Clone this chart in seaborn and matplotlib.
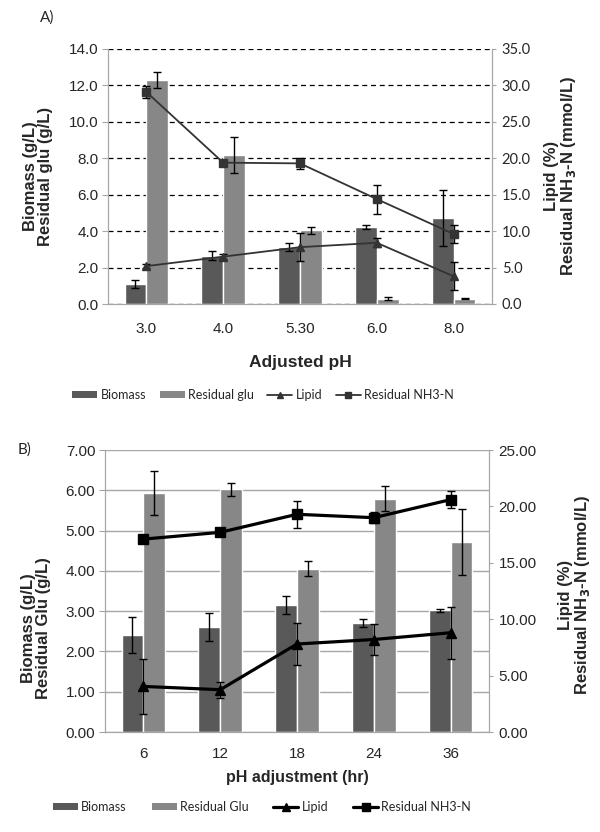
import numpy as np
import pandas as pd
import matplotlib
matplotlib.use("Agg")
import matplotlib.pyplot as plt
import seaborn as sns
from matplotlib.lines import Line2D
from matplotlib.patches import Patch

# ---- panel A data (adjusted pH) ----
ph_labels = ["3.0", "4.0", "5.30", "6.0", "8.0"]
a_biomass = [1.10, 2.64, 3.15, 4.23, 4.73]
a_biomass_err = [0.22, 0.25, 0.22, 0.10, 1.55]
a_glu = [12.30, 8.19, 4.05, 0.30, 0.30]
a_glu_err = [0.42, 1.00, 0.20, 0.06, 0.02]
a_lipid = [5.2, 6.5, 7.8, 8.4, 3.8]
a_lipid_err = [0.3, 0.3, 1.9, 0.6, 1.9]
a_nh3 = [29.1, 19.4, 19.3, 14.4, 9.6]
a_nh3_err = [0.8, 0.2, 0.8, 2.0, 1.2]

# ---- panel B data (time of pH adjustment) ----
hr_labels = ["6", "12", "18", "24", "36"]
b_biomass = [2.40, 2.60, 3.15, 2.70, 3.02]
b_biomass_err = [0.45, 0.35, 0.22, 0.10, 0.03]
b_glu = [5.94, 6.02, 4.05, 5.79, 4.71]
b_glu_err = [0.55, 0.15, 0.19, 0.31, 0.82]
b_lipid = [4.04, 3.75, 7.8, 8.2, 8.8]
b_lipid_err = [2.4, 0.7, 1.9, 1.4, 2.3]
b_nh3 = [17.1, 17.7, 19.3, 19.0, 20.6]
b_nh3_err = [0.15, 0.15, 1.2, 0.47, 0.74]

DARK = "#595959"
LIGHT = "#878787"
SPINE = "#a6a6a6"
CALIBRI = ["Lato", "DejaVu Sans"]

sns.set_style("white")
plt.rcParams["font.family"] = ["Liberation Sans", "DejaVu Sans"]


def panel(fig, rect, cats, biomass, biomass_err, glu, glu_err, lipid,
          lipid_err, nh3, nh3_err, glu_name, left_max, left_step,
          right_max, fmt, dashed, line_color, lw, msize, xlabel,
          xlabel_size, xpad, labelpad):
    ax = fig.add_axes(rect)
    df = pd.DataFrame({
        "cat": cats * 2,
        "val": biomass + glu,
        "series": ["Biomass"] * len(cats) + [glu_name] * len(cats),
    })
    sns.barplot(data=df, x="cat", y="val", hue="series", ax=ax,
                palette=[DARK, LIGHT], width=0.57, errorbar=None,
                saturation=1, legend=False)
    # error bars on bars
    errs = biomass_err + glu_err
    vals = biomass + glu
    for p, v, e in zip(ax.patches, vals, errs):
        xc = p.get_x() + p.get_width() / 2
        ax.errorbar(xc, v, yerr=e, color="black", lw=1, capsize=3,
                    capthick=1, zorder=5)
    ax.set_ylim(0, left_max)
    ax.set_xlim(-0.5, len(cats) - 0.5)
    lt = np.arange(0, left_max + 0.001, left_step)
    ax.set_yticks(lt)
    ax.set_yticklabels([fmt.format(t) for t in lt], fontsize=11)
    ax.set_axisbelow(True)
    if dashed:
        ax.yaxis.grid(True, color="black", ls=(0, (4, 3)), lw=0.9)
    else:
        ax.yaxis.grid(True, color=SPINE, ls="-", lw=1)
    ax.set_xlabel(xlabel, fontsize=xlabel_size, fontweight="bold",
                  labelpad=labelpad)
    ax.set_ylabel("")
    ax.tick_params(axis="x", length=0, labelsize=11, pad=xpad)
    ax.tick_params(axis="y", length=4, color=SPINE, pad=3,
                   direction="out", left=True)
    for s in ["left", "bottom", "right"]:
        ax.spines[s].set_color(SPINE)
    ax.spines["top"].set_visible(False)

    ax2 = ax.twinx()
    x = np.arange(len(cats))
    ax2.errorbar(x, lipid, yerr=lipid_err, color=line_color, lw=lw,
                 marker="^", ms=msize, ecolor="black", elinewidth=1,
                 capsize=3, capthick=1, zorder=6)
    ax2.errorbar(x, nh3, yerr=nh3_err, color=line_color, lw=lw,
                 marker="s", ms=msize, ecolor="black", elinewidth=1,
                 capsize=3, capthick=1, zorder=6)
    ax2.set_ylim(0, right_max)
    rt = np.arange(0, right_max + 0.001, 5.0)
    ax2.set_yticks(rt)
    ax2.set_yticklabels([fmt.format(t) for t in rt],
                        fontsize=10.5 if dashed else 11,
                        family=CALIBRI if dashed else
                        ["Liberation Sans", "DejaVu Sans"])
    ax2.tick_params(axis="y", length=3, color=SPINE, pad=4)
    for s in ["left", "bottom", "right"]:
        ax2.spines[s].set_color(SPINE)
    ax2.spines["top"].set_visible(False)
    ax2.grid(False)
    return ax, ax2


fig = plt.figure(figsize=(6.0, 8.32), dpi=100)
H = 832.0
W = 600.0

# panel A: axes x 108..492, y 49..304
axA, axA2 = panel(fig, [108 / W, 1 - 304 / H, 384 / W, 255 / H],
                  ph_labels, a_biomass, a_biomass_err, a_glu, a_glu_err,
                  a_lipid, a_lipid_err, a_nh3, a_nh3_err, "Residual glu",
                  14.0, 2.0, 35.0, "{:.1f}", True,
                  "#333333", 1.3, 5.5, "Adjusted pH", 12.5, 13, 14)

# panel B: axes x 105..489, y 450..732
axB, axB2 = panel(fig, [105 / W, 1 - 732 / H, 384 / W, 282 / H],
                  hr_labels, b_biomass, b_biomass_err, b_glu, b_glu_err,
                  b_lipid, b_lipid_err, b_nh3, b_nh3_err, "Residual Glu",
                  7.0, 1.0, 25.0, "{:.2f}", False,
                  "black", 2.3, 7, "pH adjustment (hr)", 11.5, 11, 6)

# y labels
ylab_kw = dict(rotation=90, ha="center", va="center", fontsize=12,
               fontweight="bold", linespacing=0.95)
fig.text(38 / W, 1 - 176 / H, "Biomass (g/L)\nResidual glu (g/L)",
         **ylab_kw)
fig.text(561 / W, 1 - 176 / H,
         "Lipid (%)\nResidual NH$_\\mathbf{3}$-N (mmol/L)", **ylab_kw)
fig.text(36 / W, 1 - 628 / H, "Biomass (g/L)\nResidual Glu (g/L)",
         **ylab_kw)
fig.text(575 / W, 1 - 595 / H,
         "Lipid (%)\nResidual NH$_\\mathbf{3}$-N (mmol/L)", **ylab_kw)

# panel letters
fig.text(40 / W, 1 - 18 / H, "A)", fontsize=11, va="center",
         family=CALIBRI)
fig.text(18 / W, 1 - 450 / H, "B)", fontsize=11, va="center",
         family=CALIBRI)


def legend(y, x0, glu_name, line_color, lw, msize, colspace):
    handles = [
        Patch(facecolor=DARK, edgecolor="none"),
        Patch(facecolor=LIGHT, edgecolor="none"),
        Line2D([0], [0], color=line_color, lw=lw, marker="^", ms=msize),
        Line2D([0], [0], color=line_color, lw=lw, marker="s", ms=msize),
    ]
    labels = ["Biomass", glu_name, "Lipid", "Residual NH3-N"]
    fig.legend(handles, labels, loc="center",
               bbox_to_anchor=(x0 / W, 1 - y / H), ncol=4, frameon=False,
               handlelength=2.0, handleheight=0.55, columnspacing=colspace,
               handletextpad=0.25,
               prop={"family": CALIBRI, "size": 9})


legend(395, 263, "Residual glu", "#333333", 1.3, 5, 1.1)
legend(807, 262, "Residual Glu", "black", 2.3, 6, 2.0)

fig.savefig("out.png", dpi=100)
